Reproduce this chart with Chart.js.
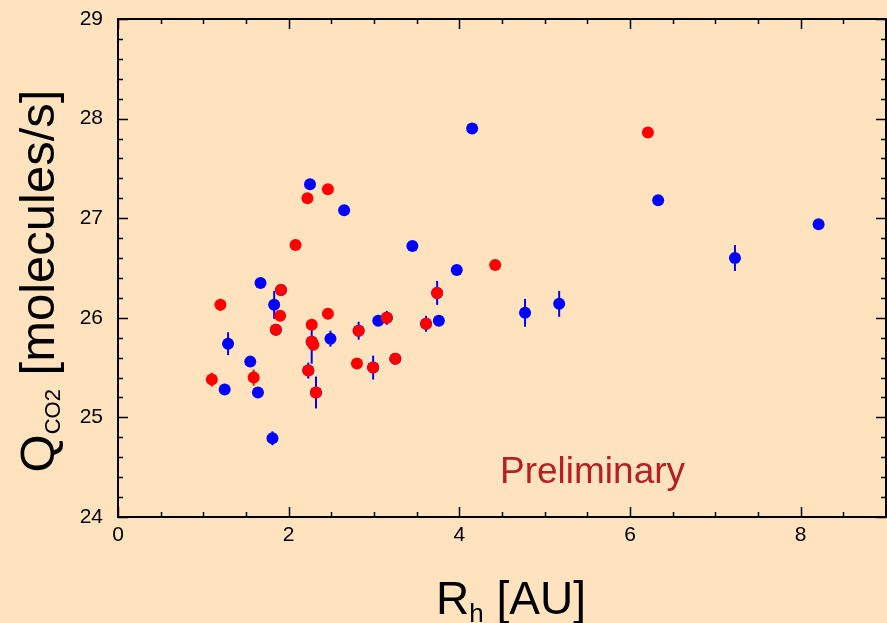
<!DOCTYPE html>
<html>
<head>
<meta charset="utf-8">
<script src="https://cdn.jsdelivr.net/npm/chart.js@4/dist/chart.umd.min.js"></script>
<style>
  html, body { margin: 0; padding: 0; background: #FFE3BE; overflow: hidden; }
  #wrap { width: 887px; height: 623px; }
</style>
</head>
<body>
<div id="wrap"><canvas id="c" width="887" height="623"></canvas></div>
<script>
// Axis tick values
const xTicks = [0, 2, 4, 6, 8];
const yTicks = [24, 25, 26, 27, 28, 29];

// Red sample: heliocentric distance (AU), log CO2 production rate, 1-sigma error
const redR   = [1.10, 1.20, 1.59, 1.85, 1.90, 1.91, 2.08, 2.22, 2.46, 2.23, 2.27, 2.27, 2.29, 2.32, 2.46, 2.80, 2.82, 2.99, 3.15, 3.25, 3.61, 3.74, 4.42, 6.21];
const redQ   = [25.38, 26.13, 25.40, 25.88, 26.02, 26.28, 26.73, 27.20, 27.29, 25.47, 25.93, 25.76, 25.73, 25.25, 26.04, 25.54, 25.87, 25.50, 26.00, 25.59, 25.94, 26.25, 26.53, 27.86];
const redErr = [0.07, 0.06, 0.08, 0, 0, 0, 0, 0, 0, 0, 0, 0, 0, 0, 0, 0, 0, 0, 0, 0, 0, 0, 0, 0];

// Blue sample
const blueR   = [1.25, 1.29, 1.55, 1.64, 1.67, 1.81, 1.83, 2.25, 2.49, 2.65, 3.05, 3.45, 3.76, 3.97, 4.15, 4.77, 5.17, 6.33, 7.23, 8.21,
                 1.85, 1.91, 2.27, 2.23, 2.32, 2.82, 2.99, 3.15, 3.25, 3.61, 3.74];
const blueQ   = [25.28, 25.74, 25.56, 25.25, 26.35, 24.79, 26.13, 27.34, 25.79, 27.08, 25.97, 26.72, 25.97, 26.48, 27.90, 26.05, 26.14, 27.18, 26.60, 26.94,
                 25.88, 26.28, 25.76, 25.47, 25.25, 25.87, 25.50, 26.00, 25.59, 25.94, 26.25];
const blueErr = [0, 0.115, 0, 0.03, 0.03, 0.07, 0.14, 0, 0.08, 0, 0.05, 0.05, 0.05, 0, 0, 0.14, 0.13, 0, 0.13, 0.04,
                 0.05, 0.05, 0.22, 0.08, 0.16, 0.09, 0.12, 0.07, 0.05, 0.08, 0.12];

const BG = '#FFE3BE';
const FONT = '"Liberation Sans", Arial, sans-serif';
const toPoints = (xs, ys) => xs.map((x, i) => ({ x: x, y: ys[i] }));

// Page background
const background = {
  id: 'background',
  beforeDraw(chart) {
    const ctx = chart.ctx;
    ctx.save();
    ctx.fillStyle = BG;
    ctx.fillRect(0, 0, chart.width, chart.height);
    ctx.restore();
  }
};

// Vertical error bars, drawn under the markers
const errorBars = {
  id: 'errorBars',
  beforeDatasetsDraw(chart) {
    const ctx = chart.ctx;
    const xs = chart.scales.x, ys = chart.scales.y;
    ctx.save();
    ctx.lineWidth = 2;
    chart.data.datasets.forEach(ds => {
      ctx.strokeStyle = ds.backgroundColor;
      ds.data.forEach((p, i) => {
        const e = ds.errors[i];
        if (!e) return;
        const px = xs.getPixelForValue(p.x);
        ctx.beginPath();
        ctx.moveTo(px, ys.getPixelForValue(p.y - e));
        ctx.lineTo(px, ys.getPixelForValue(p.y + e));
        ctx.stroke();
      });
    });
    ctx.restore();
  }
};

// Boxed frame with inward major/minor ticks on all four sides
const frame = {
  id: 'frame',
  afterDatasetsDraw(chart) {
    const ctx = chart.ctx;
    const a = chart.chartArea;
    const xs = chart.scales.x, ys = chart.scales.y;
    ctx.save();
    ctx.strokeStyle = '#000';
    ctx.lineWidth = 2;
    ctx.strokeRect(a.left, a.top, a.right - a.left, a.bottom - a.top);
    ctx.lineWidth = 1.5;
    ctx.beginPath();
    for (let k = 0; k <= 18; k++) {
      const v = k * 0.5;
      const L = (k % 4 === 0) ? 10 : 5;
      const px = Math.round(xs.getPixelForValue(v)) + 0.5;
      ctx.moveTo(px, a.bottom); ctx.lineTo(px, a.bottom - L);
      ctx.moveTo(px, a.top); ctx.lineTo(px, a.top + L);
    }
    for (let k = 0; k <= 25; k++) {
      const v = 24 + k * 0.2;
      const L = (k % 5 === 0) ? 10 : 5;
      const py = Math.round(ys.getPixelForValue(v)) + 0.5;
      ctx.moveTo(a.left, py); ctx.lineTo(a.left + L, py);
      ctx.moveTo(a.right, py); ctx.lineTo(a.right - L, py);
    }
    ctx.stroke();
    ctx.restore();
  }
};

// Axis titles with subscripts, and the annotation
function partsWidth(ctx, parts) {
  let w = 0;
  parts.forEach(p => { ctx.font = p[1] + 'px ' + FONT; w += ctx.measureText(p[0]).width; });
  return w;
}
function drawParts(ctx, parts, x, y) {
  let cx = x;
  parts.forEach(p => {
    ctx.font = p[1] + 'px ' + FONT;
    ctx.fillText(p[0], cx, y + p[2]);
    cx += ctx.measureText(p[0]).width;
  });
}
const titles = {
  id: 'titles',
  afterDraw(chart) {
    const ctx = chart.ctx;
    ctx.save();
    ctx.fillStyle = '#000';
    ctx.textBaseline = 'alphabetic';
    ctx.textAlign = 'left';

    const xParts = [['R', 46, 0], ['h', 26, 8], [' [AU]', 46, 0]];
    const xw = partsWidth(ctx, xParts);
    drawParts(ctx, xParts, 511 - xw / 2, 614);

    const yParts = [['Q', 49, 0], ['CO2', 22, 6], [' [molecules/s]', 49, 0]];
    const yw = partsWidth(ctx, yParts);
    ctx.translate(54, 281);
    ctx.rotate(-Math.PI / 2);
    drawParts(ctx, yParts, -yw / 2, 0);
    ctx.restore();

    ctx.save();
    ctx.fillStyle = '#B22222';
    ctx.font = '37px ' + FONT;
    ctx.textBaseline = 'alphabetic';
    ctx.fillText('Preliminary', 500, 483);
    ctx.restore();
  }
};

const tickFont = { family: FONT, size: 21 };

new Chart(document.getElementById('c'), {
  type: 'scatter',
  data: {
    datasets: [
      {
        label: 'red',
        data: toPoints(redR, redQ),
        errors: redErr,
        backgroundColor: '#FF0000',
        borderWidth: 0,
        pointRadius: 6,
        pointHoverRadius: 6
      },
      {
        label: 'blue',
        data: toPoints(blueR, blueQ),
        errors: blueErr,
        backgroundColor: '#0000FF',
        borderWidth: 0,
        pointRadius: 6,
        pointHoverRadius: 6
      }
    ]
  },
  options: {
    responsive: false,
    animation: false,
    devicePixelRatio: 1,
    layout: { autoPadding: false, padding: { top: 19, right: 1, left: 0, bottom: 0 } },
    plugins: { legend: { display: false }, tooltip: { enabled: false } },
    scales: {
      x: {
        type: 'linear',
        min: 0, max: 9,
        afterBuildTicks: s => { s.ticks = xTicks.map(v => ({ value: v })); },
        afterFit: s => { s.height = 106; s.paddingLeft = 0; s.paddingRight = 0; },
        grid: { display: false, drawTicks: false },
        border: { display: false },
        ticks: { color: '#000', font: tickFont, padding: 6, maxRotation: 0 }
      },
      y: {
        type: 'linear',
        min: 24, max: 29,
        afterBuildTicks: s => { s.ticks = yTicks.map(v => ({ value: v })); },
        afterFit: s => { s.width = 118; s.paddingTop = 0; s.paddingBottom = 0; },
        grid: { display: false, drawTicks: false },
        border: { display: false },
        ticks: { color: '#000', font: tickFont, padding: 15 }
      }
    }
  },
  plugins: [background, errorBars, frame, titles]
});
</script>
</body>
</html>
